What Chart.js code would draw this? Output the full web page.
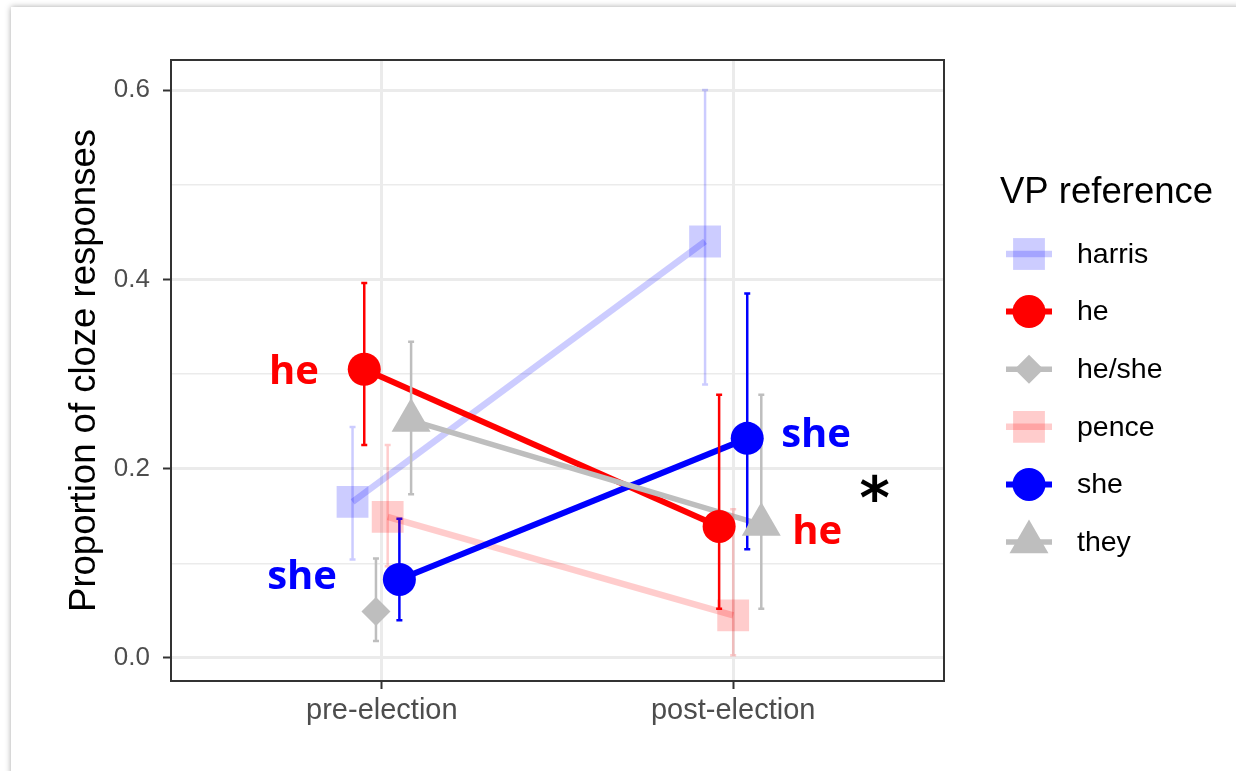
<!DOCTYPE html>
<html>
<head>
<meta charset="utf-8">
<script src="https://cdn.jsdelivr.net/npm/chart.js@4/dist/chart.umd.min.js"></script>
<style>
  html, body { margin: 0; padding: 0; background: #ffffff; width: 1236px; height: 771px; overflow: hidden; }
  .card { position: absolute; left: 11px; top: 7px; width: 1400px; height: 900px; background: #fff;
          box-shadow: 0 0 6px rgba(0,0,0,0.35); }
  canvas { position: absolute; left: 0; top: 0; }
</style>
</head>
<body>
<div class="card"></div>
<canvas id="c" width="1236" height="771"></canvas>
<script>
// ---------------- data ----------------
const categories = ['pre-election', 'post-election'];
const groups = ['harris', 'he', 'he/she', 'pence', 'she', 'they'];

const harrisMean = [0.165, 0.440];
const harrisLow  = [0.104, 0.289];
const harrisHigh = [0.244, 0.600];

const heMean = [0.305, 0.139];
const heLow  = [0.225, 0.052];
const heHigh = [0.396, 0.278];

const heSheMean = [0.049, null];
const heSheLow  = [0.018, null];
const heSheHigh = [0.105, null];

const penceMean = [0.149, 0.045];
const penceLow  = [0.097, 0.003];
const penceHigh = [0.225, 0.157];

const sheMean = [0.083, 0.232];
const sheLow  = [0.040, 0.115];
const sheHigh = [0.147, 0.385];

const theyMean = [0.251, 0.141];
const theyLow  = [0.173, 0.052];
const theyHigh = [0.334, 0.278];

const yTicks = [0, 0.1, 0.2, 0.3, 0.4, 0.5, 0.6];

// text annotations: [text, x (category units), y (data units), colour]
const noteText  = ['he', 'she', 'she', 'he', '*'];
const noteX     = [0.75, 0.773, 2.236, 2.239, 2.403];
const noteY     = [0.301, 0.085, 0.235, 0.132, 0.164];
const noteColor = ['#FF0000', '#0000FF', '#0000FF', '#FF0000', '#000000'];

// ---------------- styling ----------------
const seriesMean = [harrisMean, heMean, heSheMean, penceMean, sheMean, theyMean];
const seriesLow  = [harrisLow, heLow, heSheLow, penceLow, sheLow, theyLow];
const seriesHigh = [harrisHigh, heHigh, heSheHigh, penceHigh, sheHigh, theyHigh];

const styles = [
  { color: 'rgba(0,0,255,0.2)', shape: 'rect',     radius: 22.5, line: 6.5 },
  { color: '#FF0000',           shape: 'circle',   radius: 16.5, line: 6 },
  { color: '#BEBEBE',           shape: 'rectRot',  radius: 14.5, line: 5.5 },
  { color: 'rgba(255,0,0,0.2)', shape: 'rect',     radius: 22.5, line: 6.5 },
  { color: '#0000FF',           shape: 'circle',   radius: 16.5, line: 6 },
  { color: '#BEBEBE',           shape: 'triangle', radius: 22.5, line: 5.5 }
];
const errWidth = 2.5;
const capHalf = 3;

// dodge positions like ggplot position_dodge(width = 0.2)
function dodgeX(gi, ci) {
  const present = groups.map((g, k) => k).filter(k => seriesMean[k][ci] !== null);
  const n = present.length;
  const k = present.indexOf(gi);
  const w = 0.2;
  return (ci + 1) - w / 2 + (w / n) * (k + 0.5);
}
function pointsFor(gi) {
  const pts = [];
  categories.forEach((c, ci) => {
    const v = seriesMean[gi][ci];
    if (v !== null) pts.push({ x: dodgeX(gi, ci), y: v });
  });
  return pts;
}

const datasets = [];
// lines first (bottom), then points
groups.forEach((g, gi) => {
  datasets.push({
    label: g + ' line', data: pointsFor(gi), showLine: true,
    borderColor: styles[gi].color, borderWidth: styles[gi].line,
    pointRadius: 0, pointHoverRadius: 0, fill: false, tension: 0,
    borderCapStyle: 'butt', order: 100 - gi
  });
});
groups.forEach((g, gi) => {
  datasets.push({
    label: g, data: pointsFor(gi), showLine: false,
    backgroundColor: styles[gi].color, borderWidth: 0, borderColor: 'rgba(0,0,0,0)',
    pointStyle: styles[gi].shape, pointRadius: styles[gi].radius,
    pointHoverRadius: styles[gi].radius, pointBorderWidth: 0,
    order: 100 - 6 - gi, isPoints: true, groupIndex: gi
  });
});

const FONT = '"Liberation Sans", Arial, Helvetica, sans-serif';

const errorBarPlugin = {
  id: 'errorBars',
  beforeDatasetDraw(chart, args) {
    const ds = chart.data.datasets[args.index];
    if (!(ds.isPoints && ds.groupIndex === 0)) return;
    const { ctx, scales: { x, y } } = chart;
    ctx.save();
    groups.forEach((g, gi) => {
      ctx.strokeStyle = styles[gi].color;
      ctx.lineWidth = errWidth;
      ctx.lineCap = 'butt';
      categories.forEach((c, ci) => {
        if (seriesMean[gi][ci] === null) return;
        const px = x.getPixelForValue(dodgeX(gi, ci));
        const pl = y.getPixelForValue(seriesLow[gi][ci]);
        const ph = y.getPixelForValue(seriesHigh[gi][ci]);
        ctx.beginPath();
        ctx.moveTo(px, ph); ctx.lineTo(px, pl);
        ctx.moveTo(px - capHalf, ph); ctx.lineTo(px + capHalf, ph);
        ctx.moveTo(px - capHalf, pl); ctx.lineTo(px + capHalf, pl);
        ctx.stroke();
      });
    });
    ctx.restore();
  }
};

const overlayPlugin = {
  id: 'overlay',
  afterDatasetsDraw(chart) {
    const { ctx, chartArea: a, scales: { x, y } } = chart;
    ctx.save();
    // annotations
    ctx.textAlign = 'center';
    ctx.textBaseline = 'middle';
    noteText.forEach((t, i) => {
      if (t === '*') ctx.font = 'bold 58px "DejaVu Sans"';
      else ctx.font = 'bold 40px "Open Sans"';
      ctx.fillStyle = noteColor[i];
      ctx.fillText(t, x.getPixelForValue(noteX[i]), y.getPixelForValue(noteY[i]));
    });
    // panel border
    ctx.strokeStyle = '#333333';
    ctx.lineWidth = 2;
    ctx.strokeRect(a.left, a.top, a.right - a.left, a.bottom - a.top);
    ctx.restore();
  },
  afterDraw(chart) {
    const { ctx } = chart;
    ctx.save();
    ctx.fillStyle = '#000';
    ctx.font = '36.5px ' + FONT;
    ctx.textAlign = 'left';
    ctx.textBaseline = 'alphabetic';
    ctx.fillText('VP reference', 1000, 203);
    const keyX0 = 1006, keyX1 = 1052, keyC = 1029, labelX = 1077;
    const y0 = 254, dy = 57.6;
    groups.forEach((g, gi) => {
      const yy = y0 + gi * dy;
      const s = styles[gi];
      ctx.strokeStyle = s.color;
      ctx.lineWidth = s.line;
      ctx.beginPath(); ctx.moveTo(keyX0, yy); ctx.lineTo(keyX1, yy); ctx.stroke();
      ctx.fillStyle = s.color;
      Chart.helpers.drawPoint(ctx, { pointStyle: s.shape, radius: s.radius, rotation: 0, borderWidth: 0 }, keyC, yy);
      ctx.fillStyle = '#000';
      ctx.font = '28.5px ' + FONT;
      ctx.textBaseline = 'middle';
      ctx.fillText(g, labelX, yy + 1);
    });
    ctx.restore();
  }
};

const isMajor = v => Math.round(v * 10) % 2 === 0;

new Chart(document.getElementById('c'), {
  type: 'line',
  data: { datasets },
  plugins: [errorBarPlugin, overlayPlugin],
  options: {
    responsive: false,
    animation: false,
    events: [],
    layout: { padding: { left: 0, top: 60, right: 292, bottom: 30 } },
    plugins: { legend: { display: false }, tooltip: { enabled: false } },
    scales: {
      x: {
        type: 'linear', min: 0.4, max: 2.6,
        afterBuildTicks(scale) { scale.ticks = categories.map((c, i) => ({ value: i + 1 })); },
        afterFit(scale) { scale.height = 60; },
        ticks: {
          autoSkip: false, maxRotation: 0, padding: 5,
          color: '#4D4D4D', font: { family: FONT, size: 29 },
          callback: v => categories[Math.round(v) - 1] || ''
        },
        grid: { color: '#EBEBEB', lineWidth: 3, tickColor: '#333333', tickLength: 8, tickWidth: 2, drawTicks: true },
        border: { display: false }
      },
      y: {
        type: 'linear', min: -0.0243, max: 0.6317,
        afterBuildTicks(scale) { scale.ticks = yTicks.map(v => ({ value: v })); },
        afterFit(scale) { scale.width = 171; },
        ticks: {
          autoSkip: false, padding: 13,
          color: '#4D4D4D', font: { family: FONT, size: 26 },
          callback: v => isMajor(v) ? v.toFixed(1) : ''
        },
        grid: {
          color: '#EBEBEB',
          lineWidth: ctx => isMajor(ctx.tick.value) ? 3 : 1.6,
          tickColor: ctx => isMajor(ctx.tick.value) ? '#333333' : 'rgba(0,0,0,0)',
          tickLength: 8, tickWidth: 2, drawTicks: true
        },
        border: { display: false },
        title: {
          display: true, text: 'Proportion of cloze responses', color: '#000',
          font: { family: FONT, size: 36.5 }, padding: { top: 63, bottom: 0 }
        }
      }
    }
  }
});
</script>
</body>
</html>
